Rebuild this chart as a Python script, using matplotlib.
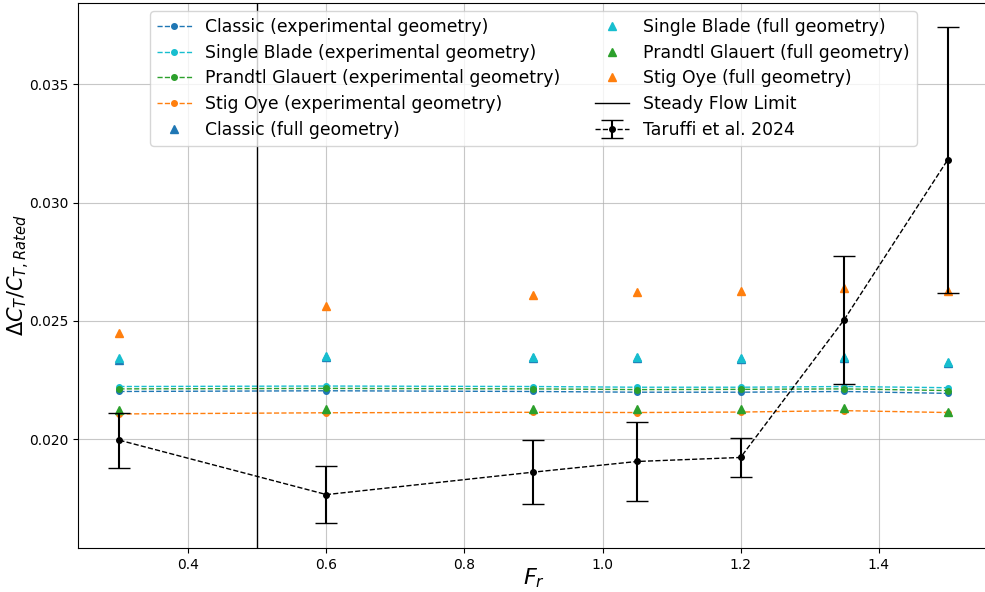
import numpy as np
import matplotlib
matplotlib.use("Agg")
import matplotlib.pyplot as plt

# Froude numbers
fr = [0.3, 0.6, 0.9, 1.05, 1.2, 1.35, 1.5]

# experimental geometry
classic_exp = [0.02201, 0.02204, 0.02201, 0.02198, 0.02198, 0.02201, 0.02193]
single_exp = [0.02222, 0.02224, 0.02222, 0.02219, 0.02219, 0.02222, 0.02217]
prandtl_exp = [0.02212, 0.02214, 0.02212, 0.02209, 0.02210, 0.02212, 0.02205]
oye_exp = [0.02106, 0.02111, 0.02113, 0.02112, 0.02114, 0.02120, 0.02112]

# full geometry
classic_full = [0.02336, 0.02348, 0.02344, 0.02344, 0.02339, 0.02344, 0.02322]
single_full = [0.02341, 0.02353, 0.02348, 0.02348, 0.02343, 0.02348, 0.02327]
prandtl_full = [0.02123, 0.02127, 0.02127, 0.02127, 0.02127, 0.02131, 0.02114]
oye_full = [0.02449, 0.02564, 0.02610, 0.02623, 0.02627, 0.02640, 0.02627]

# Taruffi et al. 2024
taruffi = [0.01995, 0.01765, 0.01860, 0.01905, 0.01922, 0.02504, 0.03180]
taruffi_err = [0.00117, 0.00121, 0.00136, 0.00167, 0.00083, 0.00271, 0.00561]

steady_limit = 0.5

fig = plt.figure(figsize=(9.85, 5.92), dpi=100)
ax = fig.add_axes([78/985, 44/592, (989-78)/985, (589.5-44)/592])

ax.plot(fr, classic_exp, '--o', color='tab:blue', ms=4, lw=1, label='Classic (experimental geometry)')
ax.plot(fr, single_exp, '--o', color='tab:cyan', ms=4, lw=1, label='Single Blade (experimental geometry)')
ax.plot(fr, prandtl_exp, '--o', color='tab:green', ms=4, lw=1, label='Prandtl Glauert (experimental geometry)')
ax.plot(fr, oye_exp, '--o', color='tab:orange', ms=4, lw=1, label='Stig Oye (experimental geometry)')

ax.plot(fr, classic_full, '^', color='tab:blue', ms=6, label='Classic (full geometry)')
ax.plot(fr, single_full, '^', color='tab:cyan', ms=6, label='Single Blade (full geometry)')
ax.plot(fr, prandtl_full, '^', color='tab:green', ms=6, label='Prandtl Glauert (full geometry)')
ax.plot(fr, oye_full, '^', color='tab:orange', ms=6, label='Stig Oye (full geometry)')

ax.axvline(steady_limit, color='black', lw=1, label='Steady Flow Limit')

ax.errorbar(fr, taruffi, yerr=taruffi_err, fmt='--o', color='black', ms=4, lw=1,
            elinewidth=1.5, capsize=8, label='Taruffi et al. 2024')

ax.grid(True, color='#b0b0b0', alpha=0.7)
ax.set_xlabel('$F_r$', fontsize=16, labelpad=-4)
ax.set_ylabel('$\\Delta C_T/C_{T,Rated}$', fontsize=15, labelpad=-2.5)
ax.set_yticks([0.020, 0.025, 0.030, 0.035])
ax.legend(loc='upper center', ncol=2, fontsize=12.4, handlelength=2,
          borderaxespad=0.5, columnspacing=2.0, labelspacing=0.45)

fig.savefig('out.png', dpi=100)
